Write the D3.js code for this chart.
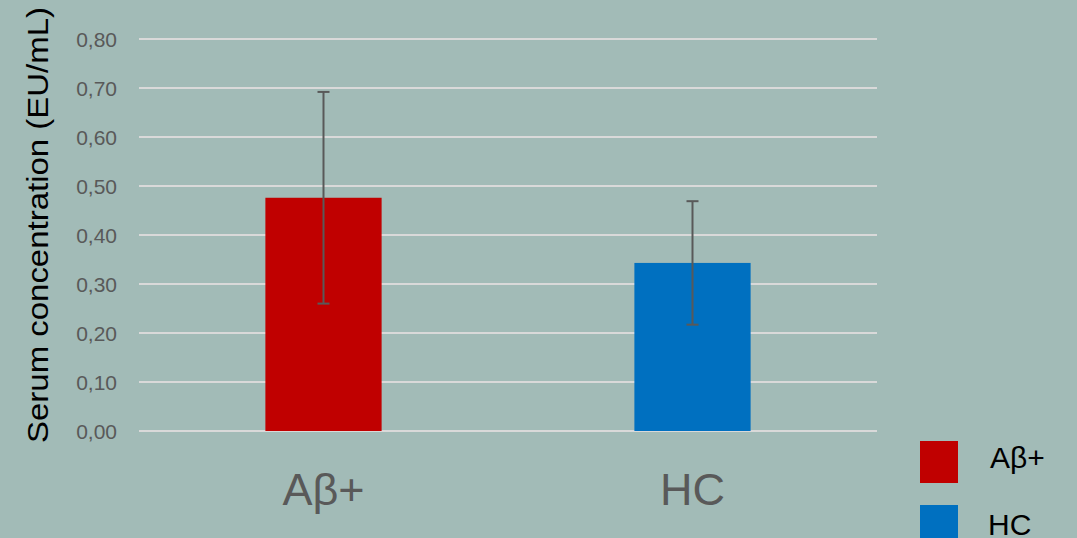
<!DOCTYPE html>
<html><head><meta charset="utf-8">
<script src="https://cdn.jsdelivr.net/npm/d3@7"></script>
<style>html,body{margin:0;padding:0;background:#a2bbb7;}svg{display:block;}</style>
</head><body>
<svg id="c" width="1077" height="538"></svg>
<script>
const categories = ["Aβ+", "HC"];
const values = [0.476, 0.343];
const errors = [0.216, 0.126];
const colors = ["#c00000", "#0070c0"];
const yTicks = [0, 0.1, 0.2, 0.3, 0.4, 0.5, 0.6, 0.7, 0.8];
const yTickLabels = ["0,00","0,10","0,20","0,30","0,40","0,50","0,60","0,70","0,80"];
const yTitle = "Serum concentration (EU/mL)";

(function(){
const svg = d3.select("#c");
svg.append("rect").attr("width",1077).attr("height",538).attr("fill","#a2bbb7");
const pL = 139, pR = 877, pT = 39, pB = 431;
const x = d3.scaleBand().domain(categories).range([pL, pR]).padding(0);
const y = d3.scaleLinear().domain([0, 0.8]).range([pB, pT]);
const barW = x.bandwidth() * 0.315;

// gridlines
svg.append("g").selectAll("line").data(yTicks).join("line")
  .attr("x1", pL).attr("x2", pR)
  .attr("y1", d => y(d)).attr("y2", d => y(d))
  .attr("stroke", "#d9d9d9").attr("stroke-width", 2);

// y axis labels
const yAxis = d3.axisLeft(y).tickValues(yTicks).tickSize(0).tickPadding(0)
  .tickFormat((d,i) => yTickLabels[i]);
const ga = svg.append("g").attr("transform", `translate(117,0)`).call(yAxis);
ga.select(".domain").remove();
ga.selectAll("text").attr("font-family","Liberation Sans, Arial, sans-serif")
  .attr("font-size", 21).attr("fill", "#595959").attr("dy","0.35em");

// bars
svg.append("g").selectAll("rect").data(categories).join("rect")
  .attr("x", d => x(d) + x.bandwidth()/2 - barW/2)
  .attr("width", barW)
  .attr("y", (d,i) => y(values[i]))
  .attr("height", (d,i) => y(0) - y(values[i]))
  .attr("fill", (d,i) => colors[i]);

// error bars
const eg = svg.append("g").attr("stroke", "#595959").attr("stroke-width", 2);
categories.forEach((c,i) => {
  const cx = x(c) + x.bandwidth()/2;
  const y1 = y(values[i] + errors[i]), y2 = y(values[i] - errors[i]);
  eg.append("line").attr("x1", cx).attr("x2", cx).attr("y1", y1).attr("y2", y2);
  eg.append("line").attr("x1", cx-6).attr("x2", cx+6).attr("y1", y1).attr("y2", y1);
  eg.append("line").attr("x1", cx-6).attr("x2", cx+6).attr("y1", y2).attr("y2", y2);
});

// category labels
svg.append("g").selectAll("text").data(categories).join("text")
  .attr("x", d => x(d) + x.bandwidth()/2)
  .attr("y", 505)
  .attr("text-anchor", "middle")
  .attr("font-family","Liberation Sans, Arial, sans-serif")
  .attr("font-size", 45).attr("fill", "#595959")
  .text(d => d);

// y title
svg.append("text")
  .attr("transform", "translate(48,443) rotate(-90)")
  .attr("font-family","Liberation Sans, Arial, sans-serif")
  .attr("font-size", 29).attr("fill", "#000")
  .attr("textLength", 436).attr("lengthAdjust", "spacingAndGlyphs")
  .text(yTitle);

// legend
const lg = svg.append("g");
categories.forEach((c,i) => {
  const ly = 441 + i*64;
  lg.append("rect").attr("x", 920).attr("y", ly).attr("width", 38).attr("height", 42).attr("fill", colors[i]);
  lg.append("text").attr("x", i === 0 ? 990 : 988).attr("y", ly + 27 + i*3)
    .attr("font-family","Liberation Sans, Arial, sans-serif")
    .attr("font-size", 30).attr("fill", "#000").text(c);
});
})();
</script>
</body></html>
